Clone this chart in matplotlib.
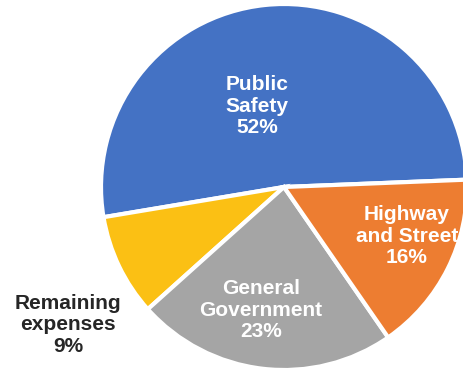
import matplotlib
matplotlib.use("Agg")
import matplotlib.pyplot as plt

categories = ["Public\nSafety", "Remaining\nexpenses", "General\nGovernment", "Highway\nand Street"]
values = [52, 9, 23, 16]
colors = ["#4472C4", "#FBC014", "#A5A5A5", "#ED7D31"]
text_colors = ["white", "#262626", "white", "white"]

W, H = 464, 369
fig = plt.figure(figsize=(W / 100, H / 100), dpi=100)
cx, cy, r = 284, 187, 183
ax = fig.add_axes([(cx - r) / W, (H - cy - r) / H, 2 * r / W, 2 * r / H])
ax.pie(values, colors=colors, startangle=2.3, counterclock=True,
       wedgeprops=dict(edgecolor="white", linewidth=3))
ax.set_xlim(-1, 1)
ax.set_ylim(-1, 1)
ax.set_aspect("equal")
ax.axis("off")

# label block centers in pixel coordinates (layout)
label_pos = [(257, 106), (68, 325), (261, 310), (407, 236)]
for cat, v, (px, py), tc in zip(categories, values, label_pos, text_colors):
    fig.text(px / W, 1 - py / H, f"{cat}\n{v}%", ha="center", va="center",
             color=tc, fontsize=15, fontweight="bold", family="Liberation Sans",
             linespacing=1.15)

fig.savefig("out.png", dpi=100)
